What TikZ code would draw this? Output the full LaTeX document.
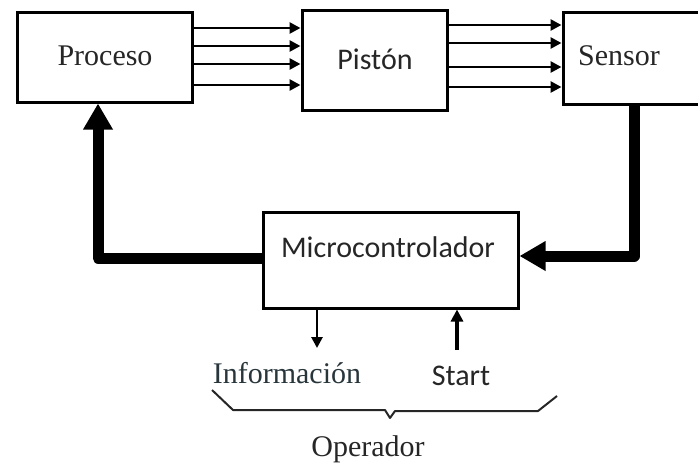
\documentclass[tikz,border=0pt]{standalone}
\usepackage{fontspec}
\setmainfont{Liberation Serif}
\newfontfamily\calfont{Carlito}
\usetikzlibrary{arrows.meta}
\definecolor{txtgray}{HTML}{262626}
\definecolor{infocol}{HTML}{28363C}
\begin{document}
\begin{tikzpicture}[x=1pt,y=-1pt,
  blockbox/.style={draw=black,line width=3pt,minimum width=#1,inner sep=0pt},
  serif/.style={font=\fontsize{30}{34}\selectfont,text=txtgray,inner sep=0pt,anchor=base},
  sans/.style={font=\calfont\fontsize{30}{34}\selectfont,text=txtgray,inner sep=0pt,anchor=base},
  thin/.style={line width=2.7pt,-{Triangle[length=11pt,width=11pt]}},
  thick/.style={line width=11pt,line join=round,-{Triangle[length=26pt,width=28pt]}}]
\useasboundingbox (0,0) rectangle (698,464);
\clip (0,0) rectangle (698,464);
% boxes
\node[blockbox=175pt,minimum height=90pt] (proceso) at (104.5,57) {};
\node[blockbox=145pt,minimum height=100pt] (piston) at (374.5,60) {};
\node[blockbox=150pt,minimum height=92pt] (sensor) at (638,58) {};
\node[blockbox=255pt,minimum height=96pt] (micro) at (390.5,260) {};
% texts
\node[serif] (procesotxt) at (105,65) {Proceso};
\node[sans] (pistontxt) at (375,69) {Pistón};
\node[serif] (sensortxt) at (619,65) {Sensor};
\node[sans] (microtxt) at (388,257) {Microcontrolador};
\node[serif,text=infocol] (info) at (287,383) {Información};
\node[sans] (start) at (461,385) {Start};
\node[serif] (operador) at (368,456) {Operador};
% parallel arrows
\foreach \yy in {28,46,64,85}
  \draw[thin] (proceso.east |- 0,\yy) -- (piston.west |- 0,\yy);
\foreach \yy in {25,43,67,87}
  \draw[thin] (piston.east |- 0,\yy) -- (sensor.west |- 0,\yy);
% feedback loop
\coordinate (rc) at (634,256);
\coordinate (lc) at (98,258);
\draw[thick] (sensor.south -| rc) -- (rc) -- (micro.east |- rc);
\draw[thick] (micro.west |- lc) -- (lc) -- (proceso.south -| lc);
% operator arrows
\coordinate (infoend) at (317,348);
\coordinate (startbeg) at (457,350);
\draw[thin] (micro.south -| infoend) -- (infoend);
\draw[line width=4pt,-{Triangle[length=12pt,width=12pt]}] (startbeg) -- (micro.south -| startbeg);
% brace
\draw[line width=2pt,line join=round,txtgray]
  (212,390) -- (233,410) -- (385,410) -- (390,418) -- (395,411) -- (538,411) -- (557,396);
\end{tikzpicture}
\end{document}
